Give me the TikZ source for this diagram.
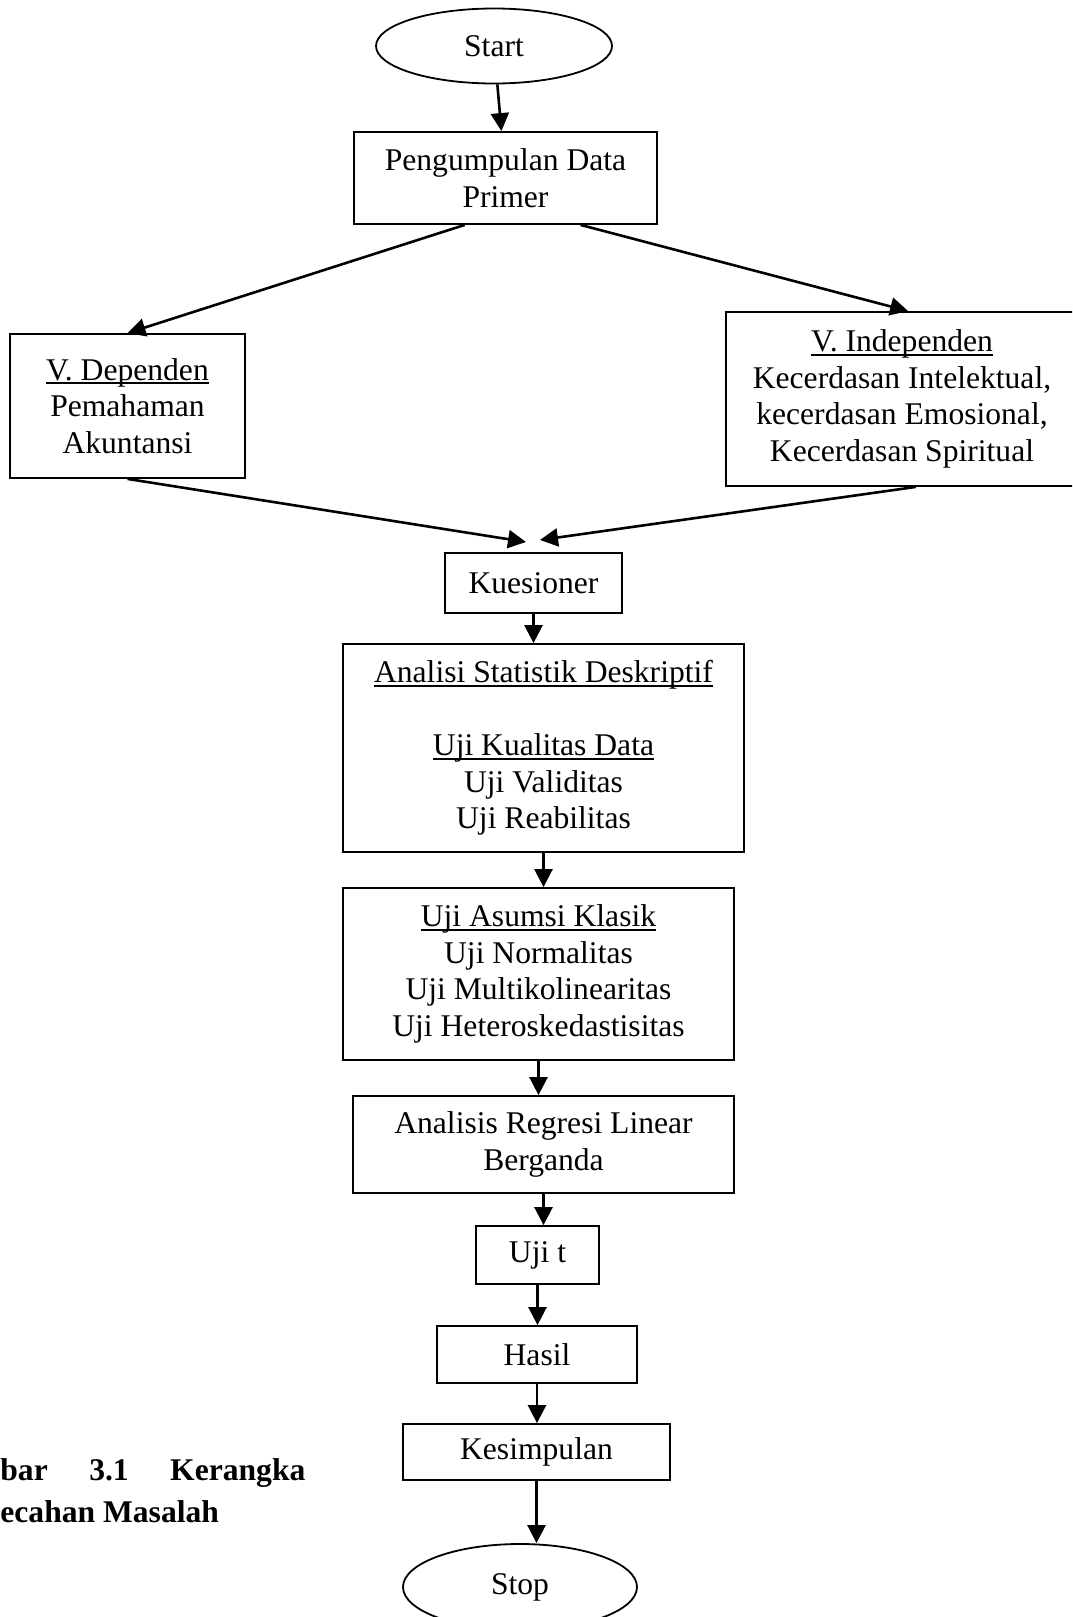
\documentclass[tikz,border=0pt]{standalone}
\usepackage{fontspec}
\setmainfont{Liberation Serif}
\usepackage{tikz}
\usetikzlibrary{shapes, arrows.meta, positioning, calc}
% garis bawah ala pengolah kata
\newcommand{\garis}[1]{\setbox0\hbox{#1}\rlap{\rule[-2pt]{\wd0}{0.9pt}}\box0}

\begin{document}
\begin{tikzpicture}[x=0.5pt, y=-0.5pt,
		every node/.style={font=\fontsize{15.8}{18.3}\selectfont},
		box/.style={rectangle, draw=black, line width=0.9pt,
			align=center, inner sep=0pt},
		term/.style={ellipse, draw=black, line width=0.9pt, inner sep=0pt},
		arr/.style={-{Triangle[length=9pt, width=9pt]}, line width=1.3pt},
		capt/.style={anchor=base west, inner sep=0pt,
			font=\fontsize{15.8}{18.3}\selectfont\bfseries}
		]
		\path[use as bounding box, clip] (0,0) rectangle (1072,1617);
		
		% Simpul
		\node[term, minimum width=118pt, minimum height=37.5pt] (start) at (494,46) {Start};
		\node[box, minimum width=151.5pt, minimum height=46pt] (kumpul) at (505.5,178)
		{Pengumpulan Data\\Primer};
		\node[box, minimum width=117.5pt, minimum height=72pt] (dep) at (127.5,406)
		{\garis{V. Dependen}\\Pemahaman\\Akuntansi};
		\node[box, minimum width=176pt, minimum height=87pt] (ind) at (902,399)
		{\garis{V. Independen}\\Kecerdasan Intelektual,\\kecerdasan Emosional,\\Kecerdasan Spiritual};
		\node[box, minimum width=88.5pt, minimum height=30pt] (kues) at (533.5,583) {Kuesioner};
		\node[box, minimum width=200.5pt, minimum height=104pt] (anal) at (543.5,748)
		{\garis{Analisi Statistik Deskriptif}\\[18.3pt]\garis{Uji Kualitas Data}\\Uji Validitas\\Uji Reabilitas};
		\node[box, minimum width=195.5pt, minimum height=86pt] (asumsi) at (538.5,974)
		{\garis{Uji Asumsi Klasik}\\Uji Normalitas\\Uji Multikolinearitas\\Uji Heteroskedastisitas};
		\node[box, minimum width=190.5pt, minimum height=48.5pt] (regresi) at (543.5,1144.5)
		{Analisis Regresi Linear\\Berganda};
		\node[box, minimum width=61.5pt, minimum height=29pt] (ujit) at (537.5,1255) {Uji t};
		\node[box, minimum width=100pt, minimum height=28.5pt] (hasil) at (537,1354.5) {Hasil};
		\node[box, minimum width=133.5pt, minimum height=28pt] (simpul) at (536.5,1452) {Kesimpulan};
		\node[term, minimum width=117pt, minimum height=43pt] (stop) at (520,1587) {Stop};
		
		% Keterangan gambar
		\node[capt] (cap1) at (0,1480) {\makebox[152.5pt][s]{bar 3.1 Kerangka}};
		\node[capt] (cap2) at (0,1522) {ecahan Masalah};
		
		% Titik temu panah
		\coordinate (temuL) at (526,542);
		\coordinate (temuR) at (540,540);
		
		% Panah
		\draw[arr] (start) -- (kumpul);
		\draw[arr] (kumpul.229) -- (dep.north);
		\draw[arr] (kumpul.328) -- (ind.86);
		\draw[arr] (dep.south) -- (temuL);
		\draw[arr] (ind.279) -- (temuR);
		\foreach \a/\b in {kues/anal, anal/asumsi, asumsi/regresi, regresi/ujit,
			ujit/hasil, hasil/simpul, simpul/stop}
		\draw[arr] (\a.south) -- (\a.south |- \b.north);
	\end{tikzpicture}
\end{document}
